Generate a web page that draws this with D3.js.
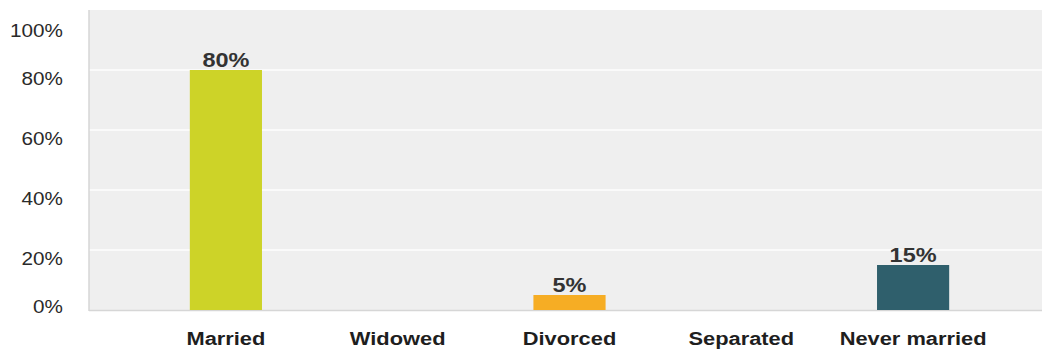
<!DOCTYPE html>
<html>
<head>
<meta charset="utf-8">
<script src="https://cdn.jsdelivr.net/npm/d3@7"></script>
<style>
  html, body { margin: 0; padding: 0; background: #fff; }
  svg { display: block; }
</style>
</head>
<body>
<svg id="chart" width="1042" height="349"></svg>
<script>
// Marital status breakdown (share of respondents)
const categories = ["Married", "Widowed", "Divorced", "Separated", "Never married"];
const values = [80, 0, 5, 0, 15];
const barColors = ["#cdd328", "#cdd328", "#f6ad24", "#2f5f6c", "#2f5f6c"];
const yTicks = [0, 20, 40, 60, 80, 100];

const svg = d3.select("#chart");
const W = 1042, H = 349;
const plot = { left: 89, right: 1042, top: 10, bottom: 310 };

const x = d3.scaleBand()
  .domain(categories)
  .range([140, 999])
  .paddingInner(0.58)
  .paddingOuter(0.29);

const y = d3.scaleLinear().domain([0, 100]).range([plot.bottom, plot.top]);

// plot background
svg.append("rect")
  .attr("x", plot.left).attr("y", plot.top)
  .attr("width", plot.right - plot.left).attr("height", plot.bottom - plot.top)
  .attr("fill", "#efefef");

// horizontal grid
svg.append("g")
  .selectAll("line")
  .data(yTicks.filter(t => t > 0 && t < 100))
  .join("line")
  .attr("x1", plot.left).attr("x2", plot.right)
  .attr("y1", d => y(d)).attr("y2", d => y(d))
  .attr("stroke", "#fafafa").attr("stroke-width", 2);

// left and bottom frame
svg.append("line")
  .attr("x1", plot.left).attr("x2", plot.left)
  .attr("y1", plot.top).attr("y2", plot.bottom + 1)
  .attr("stroke", "#d6d6d6").attr("stroke-width", 1.5);
svg.append("line")
  .attr("x1", plot.left).attr("x2", plot.right)
  .attr("y1", plot.bottom + 0.5).attr("y2", plot.bottom + 0.5)
  .attr("stroke", "#d6d6d6").attr("stroke-width", 1.5);

// y axis labels
const yAxis = d3.axisLeft(y)
  .tickValues(yTicks)
  .tickFormat(d => d + "%")
  .tickSize(0)
  .tickPadding(0);
const gy = svg.append("g")
  .attr("transform", "translate(63,0)")
  .call(yAxis);
gy.select(".domain").remove();
// end labels sit inside the frame
const nudge = d => d === 100 ? 20 : d === 0 ? -4 : 8;
gy.selectAll(".tick text")
  .attr("x", 0).attr("dy", null)
  .attr("y", d => nudge(d))
  .attr("dominant-baseline", "central")
  .attr("transform", "scale(1.15,1)")
  .style("font-family", "'Liberation Sans', Arial, sans-serif")
  .style("font-size", "18px")
  .style("fill", "#2a2a2a")
  .attr("text-anchor", "end");

// bars
svg.append("g")
  .selectAll("rect")
  .data(categories.map((c, i) => ({ c, v: values[i], col: barColors[i] })))
  .join("rect")
  .attr("x", d => x(d.c))
  .attr("width", x.bandwidth())
  .attr("y", d => y(d.v))
  .attr("height", d => y(0) - y(d.v))
  .attr("fill", d => d.col);

// value labels above bars
svg.append("g")
  .selectAll("text")
  .data(categories.map((c, i) => ({ c, v: values[i] })).filter(d => d.v > 0))
  .join("text")
  .attr("transform", d => `translate(${x(d.c) + x.bandwidth() / 2},${y(d.v) - 3}) scale(1.12,1)`)
  .attr("text-anchor", "middle")
  .style("font-family", "'Liberation Sans', Arial, sans-serif")
  .style("font-weight", "bold")
  .style("font-size", "21px")
  .style("fill", "#333")
  .text(d => d.v + "%");

// category labels
const xAxis = d3.axisBottom(x).tickSize(0).tickPadding(0);
const gx = svg.append("g")
  .attr("transform", "translate(0,345)")
  .call(xAxis);
gx.select(".domain").remove();
gx.selectAll(".tick text")
  .attr("y", 0).attr("dy", null)
  .attr("transform", "scale(1.15,1)")
  .style("font-family", "'Liberation Sans', Arial, sans-serif")
  .style("font-weight", "bold")
  .style("font-size", "19px")
  .style("fill", "#1e1e1e");
</script>
</body>
</html>
